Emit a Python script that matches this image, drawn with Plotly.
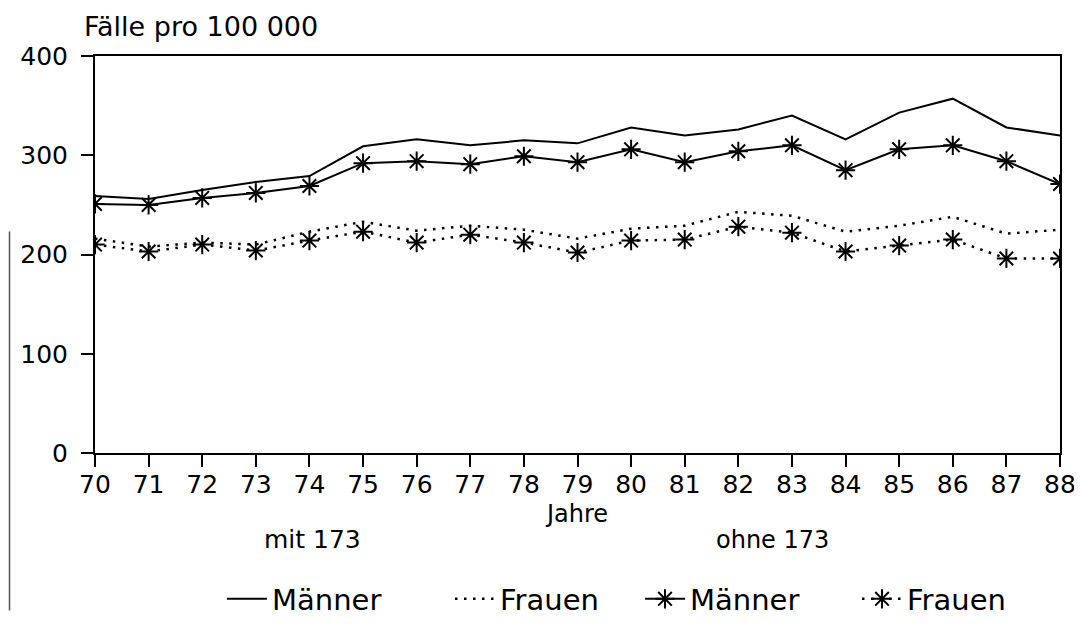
import plotly.graph_objects as go

# Jahre 1970-1988
years = list(range(70, 89))

# mit 173
maenner_mit = [259, 256, 265, 273, 279, 309, 316, 310, 315, 312, 328, 320, 326, 340, 316, 343, 357, 328, 320]
frauen_mit = [216, 208, 212, 210, 223, 233, 224, 229, 225, 216, 226, 229, 243, 239, 223, 229, 238, 221, 225]

# ohne 173
maenner_ohne = [251, 250, 257, 262, 269, 292, 294, 291, 299, 293, 306, 293, 304, 310, 285, 306, 310, 294, 271]
frauen_ohne = [210, 203, 210, 204, 214, 223, 212, 220, 212, 202, 214, 215, 228, 222, 203, 209, 215, 196, 196]

y_ticks = [0, 100, 200, 300, 400]

W, H = 1082, 629
L, R, T, B = 87, 30, 48, 165
FONT = "DejaVu Sans"
DOT = "2.5px,6.5px"
star = dict(symbol="asterisk-open", size=16, line=dict(width=2, color="black"))


def px(x):
    return (x - L) / (W - L - R)


def py(y):
    return (H - B - y) / (H - T - B)


fig = go.Figure()
fig.add_trace(go.Scatter(x=years, y=maenner_mit, mode="lines", name="Männer",
                         line=dict(color="black", width=2), legend="legend"))
fig.add_trace(go.Scatter(x=years, y=frauen_mit, mode="lines", name="Frauen",
                         line=dict(color="black", width=2.5, dash=DOT), legend="legend"))
fig.add_trace(go.Scatter(x=years, y=maenner_ohne, mode="lines+markers", name="Männer",
                         line=dict(color="black", width=2), marker=star, legend="legend2"))
fig.add_trace(go.Scatter(x=years, y=frauen_ohne, mode="lines+markers", name="Frauen",
                         line=dict(color="black", width=2.5, dash=DOT), marker=star,
                         legend="legend2"))

axis = dict(showgrid=False, zeroline=False, showline=True, linecolor="black", linewidth=2,
            mirror=True, ticks="outside", ticklen=12, tickwidth=2, tickcolor="black",
            tickfont=dict(family=FONT, size=25, color="black"))
fig.update_xaxes(range=[70, 88], tickvals=years, ticktext=[str(y) for y in years],
                 ticklabelstandoff=-4, **axis)
fig.update_yaxes(range=[0, 400], tickvals=y_ticks, ticklabelstandoff=8, **axis)


def note(text, x, y, size, anchor="center"):
    fig.add_annotation(text=text, xref="paper", yref="paper", x=px(x), y=py(y), xanchor=anchor,
                       yanchor="middle", showarrow=False,
                       font=dict(family=FONT, size=size, color="black"))


note("Fälle pro 100 000", 74, 17, 27, "left")
note("Jahre", 568, 528, 24)
note("mit 173", 304, 555, 25)
note("ohne 173", 764, 555, 24)

# scan edge on the left
fig.add_shape(type="line", xref="paper", yref="paper", x0=px(1.5), x1=px(1.5), y0=py(232), y1=py(629),
              line=dict(color="#555555", width=1.5))

leg = dict(orientation="h", yanchor="middle", xanchor="left", itemwidth=40, y=py(617),
           font=dict(family=FONT, size=29, color="black"), bgcolor="rgba(0,0,0,0)")
fig.update_layout(
    width=W, height=H,
    margin=dict(l=L, r=R, t=T, b=B),
    plot_bgcolor="white", paper_bgcolor="white",
    font=dict(family=FONT, color="black"),
    legend=dict(x=px(214), entrywidth=173, **leg),
    legend2=dict(x=px(632), entrywidth=162, **leg),
)

fig.write_html("out.html")
